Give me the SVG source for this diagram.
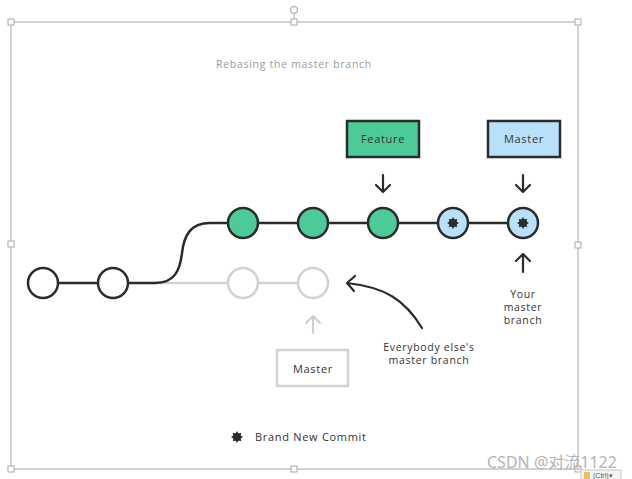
<svg xmlns="http://www.w3.org/2000/svg" width="632" height="479" viewBox="0 0 632 479">
<defs>
<style>
.t{font-family:"Open Sans","Liberation Sans",sans-serif;fill:#333;letter-spacing:0.7px}
.c{stroke:#2b2b2b;stroke-width:2.5}
.g{stroke:#d2d2d2;stroke-width:2.5;fill:#fff}
.ln{stroke:#2b2b2b;stroke-width:2.5;fill:none}
.ar{stroke:#2b2b2b;stroke-width:2.2;fill:none;stroke-linecap:round;stroke-linejoin:round}
.h{fill:#fff;stroke:#a8a8a8;stroke-width:1}
</style>
<g id="star"><path d="M0,-6 L1.5,-3.6 4.2,-4.2 3.6,-1.5 6,0 3.6,1.5 4.2,4.2 1.5,3.6 0,6 -1.5,3.6 -4.2,4.2 -3.6,1.5 -6,0 -3.6,-1.5 -4.2,-4.2 -1.5,-3.6Z" fill="#2b2b2b"/><circle r="3.8" fill="#2b2b2b"/></g>
</defs>
<rect width="632" height="479" fill="#fff"/>
<g id="frame">
<rect x="11" y="22" width="567" height="447" fill="none" stroke="#c4c4c4" stroke-width="1.5"/>
<line x1="294" y1="22" x2="294" y2="14" stroke="#b0b0b0"/>
<circle cx="294" cy="10" r="3.5" fill="none" stroke="#b8b8b8" stroke-width="1.5"/>
<rect class="h" x="8" y="19" width="6" height="6"/>
<rect class="h" x="291" y="19" width="6" height="6"/>
<rect class="h" x="575" y="19" width="6" height="6"/>
<rect class="h" x="8" y="241" width="6" height="6"/>
<rect class="h" x="575" y="242" width="6" height="6"/>
<rect class="h" x="8" y="466" width="6" height="6"/>
<rect class="h" x="291" y="466" width="6" height="6"/>
<rect class="h" x="575" y="466" width="6" height="6"/>
</g>
<text class="t" x="294" y="68" text-anchor="middle" font-size="10.5" style="fill:#9a9a9a">Rebasing the master branch</text>
<g id="connectors">
<line x1="243" y1="283" x2="313" y2="283" class="g"/>
<line x1="150" y1="283" x2="243" y2="283" class="g"/>
<path class="ln" d="M43,283 L155,283 C175,283 180,270 182,253 C184,236 190,223 210,223 L523,223"/>
<path class="ar" d="M383,175 L383,192 M376,185 L383,192 390,185"/>
<path class="ar" d="M523,175 L523,192 M516,185 L523,192 530,185"/>
<path class="ar" d="M523,272 L523,254 M516,261 L523,254 530,261"/>
<path d="M313,333 L313,316 M306,323 L313,316 320,323" stroke="#cfcfcf" stroke-width="2.2" fill="none" stroke-linecap="round" stroke-linejoin="round"/>
<path class="ar" d="M422,328 C405,300 385,287 347,283 M355,276 L347,283 354,291"/>
</g>
<g id="c1"><circle cx="43" cy="283" r="15" fill="#fff" class="c"/></g>
<g id="c2"><circle cx="113" cy="283" r="15" fill="#fff" class="c"/></g>
<g id="g1"><circle cx="243" cy="283" r="15" class="g"/></g>
<g id="g2"><circle cx="313" cy="283" r="15" class="g"/></g>
<g id="f1"><circle cx="243" cy="223" r="15" fill="#4ccb98" class="c"/></g>
<g id="f2"><circle cx="313" cy="223" r="15" fill="#4ccb98" class="c"/></g>
<g id="f3"><circle cx="383" cy="223" r="15" fill="#4ccb98" class="c"/></g>
<g id="m1"><circle cx="453" cy="223" r="15" fill="#b9e0fa" class="c"/><use href="#star" x="453" y="223"/></g>
<g id="m2"><circle cx="523" cy="223" r="15" fill="#b9e0fa" class="c"/><use href="#star" x="523" y="223"/></g>
<g id="feature"><rect x="347" y="121" width="72" height="36" fill="#4ccb98" stroke="#2b2b2b" stroke-width="2.5"/><text class="t" x="383" y="143" text-anchor="middle" font-size="11">Feature</text></g>
<g id="master"><rect x="488" y="121" width="72" height="36" fill="#b9e0fa" stroke="#2b2b2b" stroke-width="2.5"/><text class="t" x="524" y="143" text-anchor="middle" font-size="11">Master</text></g>
<g id="oldmaster"><rect x="277" y="350" width="71" height="36" fill="#fff" stroke="#d2d2d2" stroke-width="2.5"/><text class="t" x="313" y="373" text-anchor="middle" font-size="11">Master</text></g>
<g id="your"><text class="t" x="523" y="298" text-anchor="middle" font-size="10.5">Your</text><text class="t" x="523" y="311" text-anchor="middle" font-size="10.5">master</text><text class="t" x="523" y="324" text-anchor="middle" font-size="10.5">branch</text></g>
<g id="everybody"><text class="t" x="429" y="351" text-anchor="middle" font-size="10.5">Everybody else's</text><text class="t" x="429" y="364" text-anchor="middle" font-size="10.5">master branch</text></g>
<g id="legend"><use href="#star" x="237" y="437"/><text class="t" x="255" y="441" font-size="11">Brand New Commit</text></g>
<text x="487" y="468" font-family="'Noto Sans','Noto Sans CJK SC',sans-serif" font-size="16" fill="#b4b4b4">CSDN @对流1122</text>
<g id="ctrl"><rect x="581" y="470" width="40" height="10" fill="#f4f4f4" stroke="#c8c8c8" stroke-width="1"/><rect x="584" y="472" width="6" height="7" fill="#e8c060"/><text x="593" y="478" font-family="'Liberation Sans',sans-serif" font-size="7" fill="#555">(Ctrl)▾</text></g>
</svg>
